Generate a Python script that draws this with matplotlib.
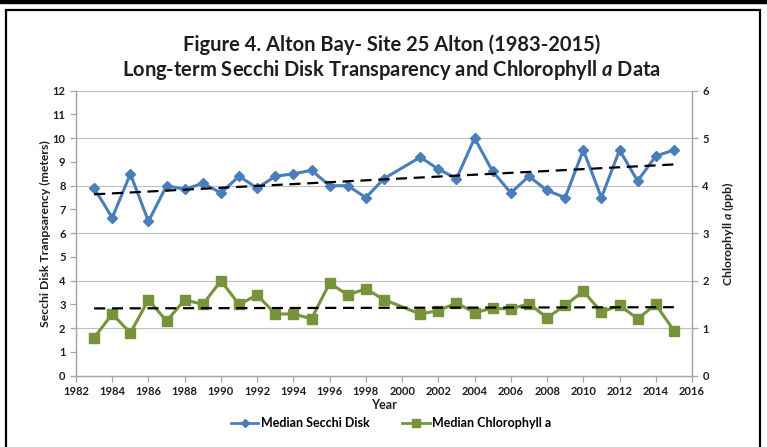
import numpy as np
import matplotlib
matplotlib.use("Agg")
import matplotlib.pyplot as plt
from matplotlib.patches import Rectangle
from matplotlib.lines import Line2D

plt.rcParams['font.family'] = ['Lato', 'DejaVu Sans']
plt.rcParams['mathtext.fontset'] = 'custom'
plt.rcParams['mathtext.it'] = 'Lato:italic:bold'
plt.rcParams['mathtext.rm'] = 'Lato:bold'

# data (no 2000 value in either series)
years = [1983, 1984, 1985, 1986, 1987, 1988, 1989, 1990, 1991, 1992, 1993,
         1994, 1995, 1996, 1997, 1998, 1999, 2001, 2002, 2003, 2004, 2005,
         2006, 2007, 2008, 2009, 2010, 2011, 2012, 2013, 2014, 2015]
secchi = [7.9, 6.65, 8.5, 6.5, 8.0, 7.85, 8.1, 7.7, 8.4, 7.9, 8.4,
          8.5, 8.65, 8.0, 8.0, 7.5, 8.3, 9.2, 8.7, 8.3, 10.0, 8.6,
          7.7, 8.4, 7.8, 7.5, 9.5, 7.5, 9.5, 8.2, 9.25, 9.5]
chla = [0.8, 1.3, 0.9, 1.6, 1.15, 1.6, 1.5, 2.0, 1.5, 1.7, 1.3,
        1.3, 1.2, 1.95, 1.7, 1.83, 1.6, 1.3, 1.37, 1.53, 1.33, 1.42,
        1.4, 1.52, 1.22, 1.48, 1.78, 1.34, 1.48, 1.2, 1.5, 0.95]

year_ticks = list(range(1982, 2017, 2))

blue = '#4A7EBB'
green = '#77933C'
gray = '#A6A6A6'
txt = '#1E1E1E'

fig = plt.figure(figsize=(7.67, 4.47), dpi=100)

# outer frame like the report page
fig.patches.append(Rectangle((0, 0.993), 1, 0.01, transform=fig.transFigure,
                             color='black', zorder=0))
fig.patches.append(Rectangle((0.008, -0.05), 0.983, 1.027, transform=fig.transFigure,
                             fill=False, edgecolor='black', linewidth=1.6, zorder=0))

ax1 = fig.add_axes([0.0991, 0.1595, 0.8031, 0.6375])
ax2 = ax1.twinx()

x = np.array(years)
ax1.plot(years, secchi, '-', color=blue, linewidth=2.2, marker='D',
         markersize=5.5, markerfacecolor=blue, markeredgecolor=blue, zorder=3)
ax2.plot(years, chla, '-', color=green, linewidth=2.2, marker='s',
         markersize=7.5, markerfacecolor=green, markeredgecolor=green, zorder=3)

# linear trend lines
p1 = np.polyfit(x, secchi, 1)
ax1.plot([1983, 2015], np.polyval(p1, [1983, 2015]), '--', color='black',
         linewidth=1.6, dashes=(5, 3), zorder=4)
p2 = np.polyfit(x, chla, 1)
ax2.plot([1983, 2015], np.polyval(p2, [1983, 2015]), '--', color='black',
         linewidth=1.6, dashes=(5, 3), zorder=4)

ax1.set_xlim(1982, 2016)
ax1.set_ylim(0, 12)
ax2.set_ylim(0, 6)
ax1.set_xticks(year_ticks)
ax1.set_yticks(range(0, 13))
ax2.set_yticks(range(0, 7))
for v in range(2, 13, 2):
    ax1.axhline(v, color='#BFBFBF', linewidth=0.8, zorder=0)

for ax in (ax1, ax2):
    ax.spines['top'].set_visible(False)
    for s in ('left', 'right', 'bottom'):
        ax.spines[s].set_color(gray)
        ax.spines[s].set_linewidth(0.9)
    ax.tick_params(colors=gray, labelcolor=txt, length=4, width=0.9,
                   labelsize=8)
for lab in ax1.get_xticklabels() + ax1.get_yticklabels() + ax2.get_yticklabels():
    lab.set_fontweight('bold')

ax1.set_xlabel('Year', fontsize=9, fontweight='bold', color=txt, labelpad=1)
ax1.set_ylabel('Secchi Disk Tranpsarency (meters)', fontsize=8.8,
               fontweight='bold', color=txt, labelpad=1)
ax2.set_ylabel(r'Chlorophyll $\mathit{a}$ (ppb)', fontsize=8.8,
               fontweight='bold', color=txt, labelpad=8)

fig.text(0.51, 0.899, 'Figure 4. Alton Bay- Site 25 Alton (1983-2015)',
         ha='center', va='center', fontsize=14.5, fontweight='bold', color=txt)
fig.text(0.51, 0.843, r'Long-term Secchi Disk Transparency and Chlorophyll $\mathit{a}$ Data',
         ha='center', va='center', fontsize=14.5, fontweight='bold', color=txt)

handles = [Line2D([], [], color=blue, linewidth=2, marker='D', markersize=4),
           Line2D([], [], color=green, linewidth=2, marker='s', markersize=6)]
fig.legend(handles, ['Median Secchi Disk', 'Median Chlorophyll a'],
           loc='center', bbox_to_anchor=(0.51, 0.053), ncol=2, frameon=False,
           prop={'size': 9, 'weight': 'bold'}, handlelength=2.2, columnspacing=2.6,
           handletextpad=0.2)

fig.savefig('out.png', dpi=100)
